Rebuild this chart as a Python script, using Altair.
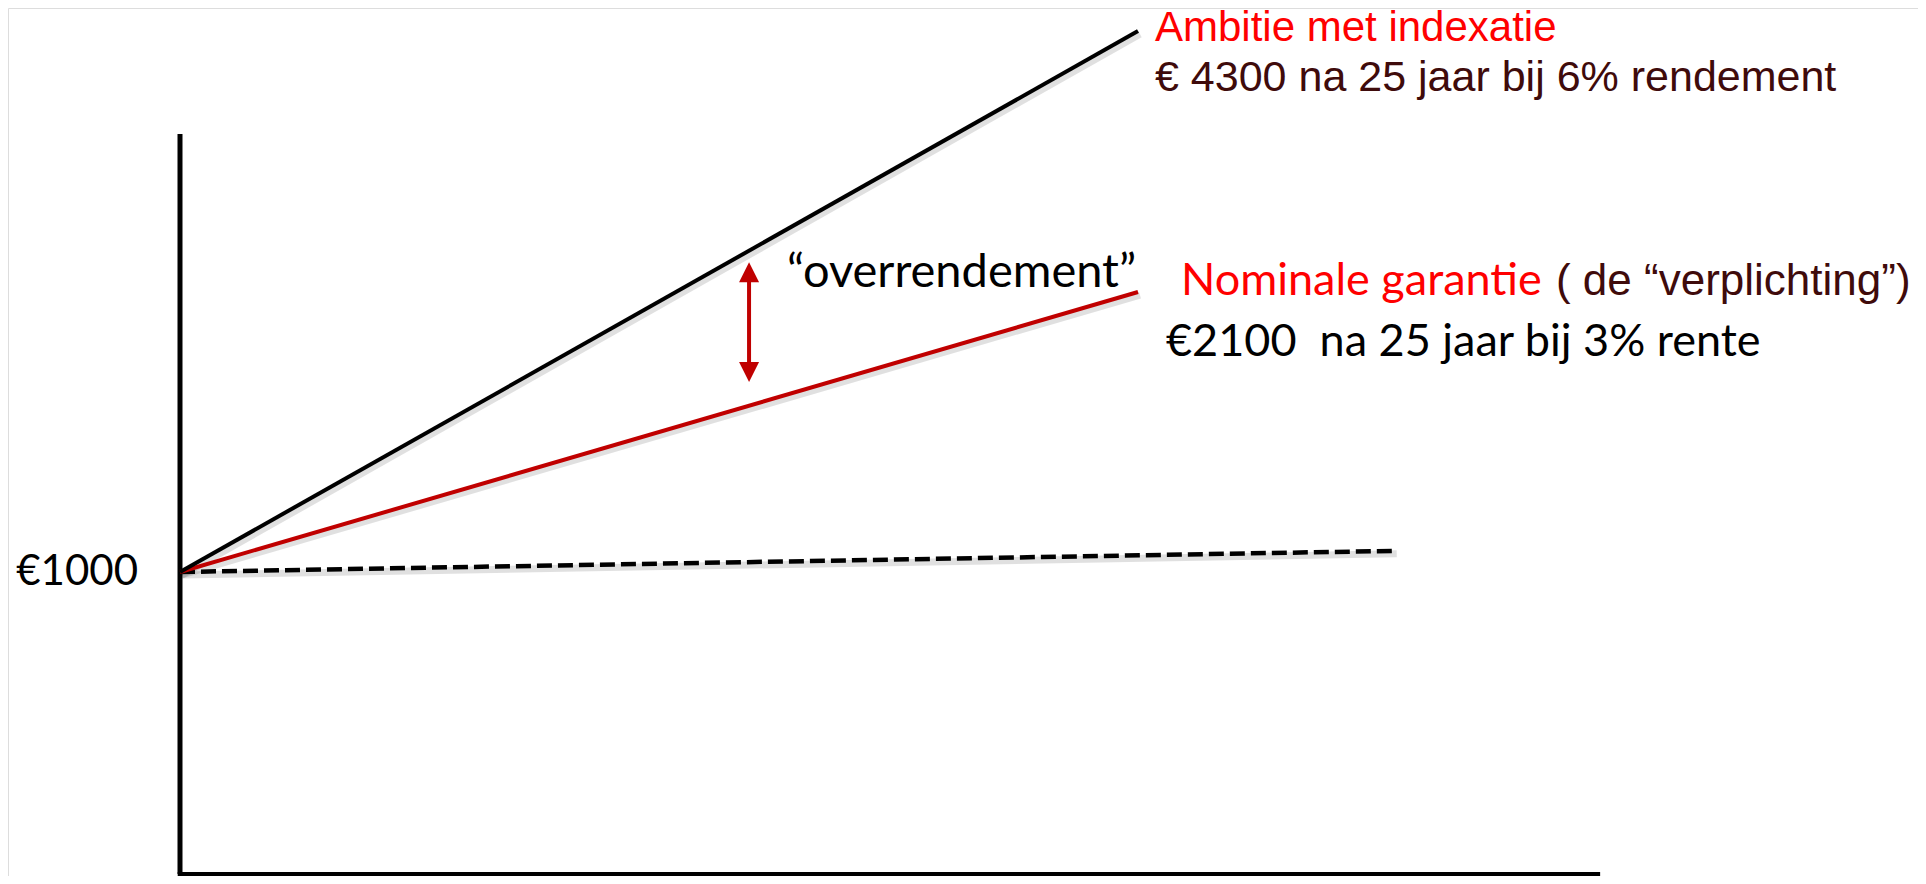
import altair as alt
import pandas as pd

# ---- data (schematic values) ----
years_line = [0, 25]            # start and horizon (years)
ambitie = [1000, 2791]          # black line, schematic height
garantie = [1000, 1927]         # red line, schematic height
basis_years = [0, 31.7]         # dashed line
basis = [1000, 1070]
arrow_year = [14.85]
arrow_top = [2026]
arrow_bottom = [1629]
yaxis_top = [2450]
xaxis_end = [37.06]

ambitie_labels = ["Ambitie met indexatie", "€ 4300 na 25 jaar bij 6% rendement"]
garantie_labels = ["Nominale garantie", "( de “verplichting”)", "€2100\u00a0 na 25 jaar bij 3% rente"]
arrow_label = ["“overrendement”"]
start_label = ["€1000"]

W, H = 1910, 868
xs = alt.Scale(domain=[-4.4885, 45.355], nice=False, zero=False)
ys = alt.Scale(domain=[-6.62, 2867.5], nice=False, zero=False)

def X(f="x"):
    return alt.X(f"{f}:Q", scale=xs, axis=None)

def Y(f="y"):
    return alt.Y(f"{f}:Q", scale=ys, axis=None)

RED = "#C00000"
MAROON = "#3F0B0B"
BRIGHT = "#FF0000"

# axes drawn as rules
vaxis = alt.Chart(pd.DataFrame({"x": [0], "y": [0], "y2": yaxis_top})).mark_rule(
    color="black", strokeWidth=5).encode(x=X(), y=Y(), y2="y2:Q")
haxis = alt.Chart(pd.DataFrame({"x": [-0.06], "x2": xaxis_end, "y": [0]})).mark_rule(
    color="black", strokeWidth=4).encode(x=X(), x2="x2:Q", y=Y())

amb_df = pd.DataFrame({"x": years_line, "y": ambitie})
gar_df = pd.DataFrame({"x": years_line, "y": garantie})
bas_df = pd.DataFrame({"x": basis_years, "y": basis})

def shadow(df, w):
    return alt.Chart(df).mark_line(color="#000000", opacity=0.12, strokeWidth=w + 3,
                                   xOffset=2, yOffset=3).encode(x=X(), y=Y())

amb = alt.Chart(amb_df).mark_line(color="black", strokeWidth=4).encode(x=X(), y=Y())
gar = alt.Chart(gar_df).mark_line(color=RED, strokeWidth=4).encode(x=X(), y=Y())
bas = alt.Chart(bas_df).mark_line(color="black", strokeWidth=4.5, strokeDash=[15, 6]).encode(x=X(), y=Y())

arr_df = pd.DataFrame({"x": arrow_year, "y": arrow_top, "y2": arrow_bottom})
shaft = alt.Chart(arr_df).mark_rule(color=RED, strokeWidth=4, yOffset=10, y2Offset=-10).encode(
    x=X(), y=Y(), y2="y2:Q")
head_up = alt.Chart(arr_df).mark_point(
    shape="M0,0L1,2L-1,2Z", filled=True, color=RED, opacity=1, size=400, strokeWidth=0).encode(x=X(), y=Y())
head_dn = alt.Chart(arr_df).mark_point(
    shape="M0,0L1,-2L-1,-2Z", filled=True, color=RED, opacity=1, size=400, strokeWidth=0).encode(x=X(), y=Y("y2"))

def label(x, y, text, dx, dy, color, font, size, align="left"):
    df = pd.DataFrame({"x": [x], "y": [y], "t": [text]})
    return alt.Chart(df).mark_text(
        align=align, baseline="alphabetic", dx=dx, dy=dy, color=color,
        font=font, fontSize=size).encode(x=X(), y=Y(), text="t:N")

ARIAL = "Liberation Sans"
CAL = "Lato"

texts = [
    label(years_line[1], ambitie[1], ambitie_labels[0], 17, 10, BRIGHT, ARIAL, 42),
    label(years_line[1], ambitie[1], ambitie_labels[1], 17, 60, MAROON, ARIAL, 43),
    label(years_line[1], garantie[1], garantie_labels[0], 43, 3, BRIGHT, CAL, 45),
    label(years_line[1], garantie[1], garantie_labels[1], 418, 3, MAROON, ARIAL, 44),
    label(years_line[1], garantie[1], garantie_labels[2], 28, 64, "black", CAL, 45),
    label(arrow_year[0], arrow_top[0], arrow_label[0], 38, 25, "black", CAL, 47),
    label(years_line[0], ambitie[0], start_label[0], -42, 13, "black", CAL, 42, align="right"),
]

chart = alt.layer(vaxis, haxis, shadow(bas_df, 4), shadow(gar_df, 4), shadow(amb_df, 4),
                  bas, gar, amb, shaft, head_up, head_dn, *texts).properties(
    width=W, height=H, padding=0, autosize=alt.AutoSizeParams(type="none")
).configure_view(stroke=None).configure(background="white")

chart.save("out.html", embed_options={"renderer": "svg", "actions": False})
